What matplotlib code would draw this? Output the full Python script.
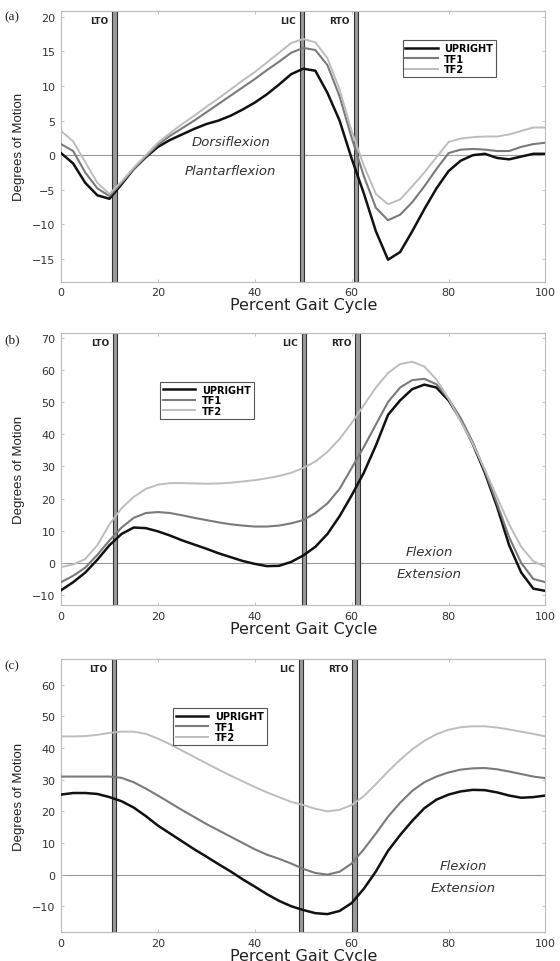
import numpy as np
import matplotlib
matplotlib.use("Agg")
import matplotlib.pyplot as plt

pct = np.arange(0, 100.01, 2.5)

# Panel (a) ankle
a_upright = [0.3, -1.2, -4.0, -5.8, -6.3, -4.2, -2.0, -0.3, 1.2, 2.2, 3.0, 3.8, 4.5, 5.0, 5.7, 6.6,
             7.6, 8.8, 10.2, 11.7, 12.5, 12.2, 9.0, 5.0, -0.5, -5.5, -11.0, -15.1, -14.0, -11.0, -7.8,
             -4.8, -2.3, -0.8, 0.0, 0.2, -0.4, -0.6, -0.2, 0.2, 0.2]
a_tf1 = [1.6, 0.6, -2.5, -4.8, -5.9, -4.0, -2.0, -0.2, 1.5, 2.8, 3.9, 5.0, 6.2, 7.4, 8.6, 9.8,
         11.0, 12.3, 13.5, 14.8, 15.5, 15.2, 13.0, 8.5, 2.5, -3.0, -7.6, -9.4, -8.6, -6.8, -4.5,
         -2.0, 0.3, 0.8, 0.9, 0.8, 0.6, 0.6, 1.2, 1.6, 1.8]
a_tf2 = [3.5, 2.0, -1.0, -4.0, -5.6, -3.8, -1.8, 0.0, 1.8, 3.2, 4.5, 5.7, 7.0, 8.2, 9.5, 10.8,
         12.0, 13.4, 14.8, 16.2, 16.8, 16.3, 14.0, 9.5, 3.5, -1.5, -5.6, -7.1, -6.4, -4.5, -2.5,
         -0.3, 1.9, 2.4, 2.6, 2.7, 2.7, 3.0, 3.5, 4.0, 4.0]

# Panel (b) knee
b_upright = [-8.5, -6.0, -3.0, 1.0, 5.5, 9.0, 11.0, 10.8, 9.8, 8.5, 7.0, 5.7, 4.4, 3.0, 1.8, 0.6,
             -0.3, -1.0, -0.9, 0.3, 2.3, 5.0, 9.0, 14.5, 21.0, 28.0, 36.5, 46.0, 50.5, 54.0, 55.4,
             54.5, 50.5, 44.5, 37.0, 28.0, 17.5, 5.5, -3.0, -8.0, -8.7]
b_tf1 = [-6.0, -4.0, -1.5, 2.5, 7.0, 11.0, 14.0, 15.5, 15.8, 15.5, 14.8, 14.0, 13.3, 12.6, 12.0,
         11.6, 11.3, 11.3, 11.6, 12.3, 13.3, 15.5, 18.5, 23.0, 29.5, 36.0, 43.0, 50.0, 54.5, 56.8,
         57.2, 55.5, 51.0, 45.0, 37.5, 28.5, 18.5, 8.0, 0.0, -5.0, -6.0]
b_tf2 = [-1.3, -0.5, 1.2, 5.5, 12.0, 17.0, 20.5, 23.0, 24.3, 24.8, 24.8, 24.7, 24.6, 24.7, 24.9,
         25.3, 25.7, 26.3, 27.0, 28.0, 29.5, 31.5, 34.5, 38.5, 43.5, 49.0, 54.5, 59.0, 61.8, 62.5,
         61.0, 57.0, 51.0, 44.0, 37.0, 29.0, 20.5, 12.0, 5.0, 0.5, -1.2]

# Panel (c) hip
c_upright = [25.3, 25.8, 25.8, 25.5, 24.5, 23.2, 21.2, 18.5, 15.5, 13.0, 10.5, 8.0, 5.7, 3.3, 1.0,
             -1.5, -3.8, -6.2, -8.3, -10.0, -11.2, -12.2, -12.5, -11.5, -9.0, -4.5, 1.0, 7.5, 12.5,
             17.0, 21.0, 23.7, 25.3, 26.3, 26.8, 26.7, 26.0, 25.0, 24.3, 24.5, 25.0]
c_tf1 = [31.0, 31.0, 31.0, 31.0, 31.0, 30.6, 29.2, 27.2, 25.0, 22.7, 20.4, 18.2, 16.0, 14.0, 12.0,
         10.0, 8.0, 6.3, 5.0, 3.5, 1.8, 0.5, 0.0, 0.9, 3.5, 8.0, 13.0, 18.3, 22.7, 26.5, 29.2,
         31.0, 32.3, 33.2, 33.6, 33.7, 33.3, 32.6, 31.8, 31.0, 30.5]
c_tf2 = [43.7, 43.7, 43.8, 44.2, 44.8, 45.2, 45.2, 44.5, 43.0, 41.2, 39.2, 37.2, 35.2, 33.2, 31.3,
         29.5, 27.7, 26.0, 24.5, 23.0, 22.0, 20.8, 20.0, 20.5, 22.0, 24.8, 28.6, 32.6, 36.3, 39.6,
         42.3, 44.4, 45.8, 46.6, 46.9, 46.9, 46.5, 45.9, 45.2, 44.5, 43.7]

series_names = ["UPRIGHT", "TF1", "TF2"]
event_names = ["LTO", "LIC", "RTO"]
events_a = [11.0, 49.7, 60.9]
events_b = [11.2, 50.2, 61.2]
events_c = [10.9, 49.6, 60.6]

panels = [
    dict(tag="(a)", data=[a_upright, a_tf1, a_tf2], ev=events_a, ylim=(-18.3, 20.9),
         yticks=np.arange(-15, 21, 5), upper="Dorsiflexion", lower="Plantarflexion",
         txt_x=35, txt_up=1.1, txt_lo=-1.3, leg=(0.705, 0.89), rect=[0.109, 0.706, 0.865, 0.282]),
    dict(tag="(b)", data=[b_upright, b_tf1, b_tf2], ev=events_b, ylim=(-13.1, 71.5),
         yticks=np.arange(-10, 71, 10), upper="Flexion", lower="Extension",
         txt_x=76, txt_up=1.5, txt_lo=-1.3, leg=(0.205, 0.82), rect=[0.109, 0.370, 0.865, 0.283]),
    dict(tag="(c)", data=[c_upright, c_tf1, c_tf2], ev=events_c, ylim=(-18.2, 68.2),
         yticks=np.arange(-10, 61, 10), upper="Flexion", lower="Extension",
         txt_x=83, txt_up=0.8, txt_lo=-1.9, leg=(0.232, 0.82), rect=[0.109, 0.030, 0.865, 0.284]),
]

colors = ["#111111", "#7a7a7a", "#bdbdbd"]
widths = [1.8, 1.5, 1.4]

fig = plt.figure(figsize=(5.6, 9.62), dpi=100)
sans = ["DejaVu Sans"]

for p in panels:
    ax = fig.add_axes(p["rect"])
    ax.set_xlim(0, 100)
    ax.set_ylim(*p["ylim"])
    ax.axhline(0, color="#999999", lw=0.8, zorder=1)
    for x, name in zip(p["ev"], event_names):
        ax.axvspan(x - 0.45, x + 0.45, facecolor="#9a9a9a", edgecolor="#333333", lw=0.8, zorder=2)
        ax.text(x - 1.3, p["ylim"][1] - 0.035 * (p["ylim"][1] - p["ylim"][0]), name,
                ha="right", va="center", fontsize=6.5, fontweight="bold", family=sans, color="#222222")
    for vals, name, c, w in zip(p["data"], series_names, colors, widths):
        ax.plot(pct, vals, color=c, lw=w, label=name, zorder=3, solid_joinstyle="round")
    leg = ax.legend(loc="upper left", bbox_to_anchor=p["leg"], fancybox=False, frameon=True,
                    edgecolor="#555555", framealpha=1, prop=dict(family=sans, size=7, weight="bold"),
                    handlelength=3.3, handletextpad=0.7, borderpad=0.3, labelspacing=0.05,
                    borderaxespad=0)
    leg.get_frame().set_linewidth(0.8)
    ax.text(p["txt_x"], p["txt_up"], p["upper"], ha="center", va="bottom", fontsize=9.5,
            style="italic", family=sans, color="#333333")
    ax.text(p["txt_x"], p["txt_lo"], p["lower"], ha="center", va="top", fontsize=9.5,
            style="italic", family=sans, color="#333333")
    ax.set_xticks(np.arange(0, 101, 20))
    ax.set_yticks(p["yticks"])
    ax.tick_params(direction="in", length=2, width=0.6, colors="#bbbbbb", labelcolor="#333333",
                   labelsize=8, pad=4, top=True, right=True)
    for lab in ax.get_xticklabels() + ax.get_yticklabels():
        lab.set_family(sans)
    for s in ax.spines.values():
        s.set_color("#bbbbbb")
        s.set_linewidth(0.8)
    ax.set_xlabel("Percent Gait Cycle", fontsize=11.5, family=sans, labelpad=0, color="#222222")
    ax.set_ylabel("Degrees of Motion", fontsize=9.5, family=["Liberation Sans", "DejaVu Sans"],
                  labelpad=5, color="#222222")
    ax.text(-0.118, 1.0, p["tag"], transform=ax.transAxes, ha="left", va="top", fontsize=9.5,
            family=["Liberation Serif", "DejaVu Serif"], color="#222222")

fig.savefig("out.png", dpi=100)
